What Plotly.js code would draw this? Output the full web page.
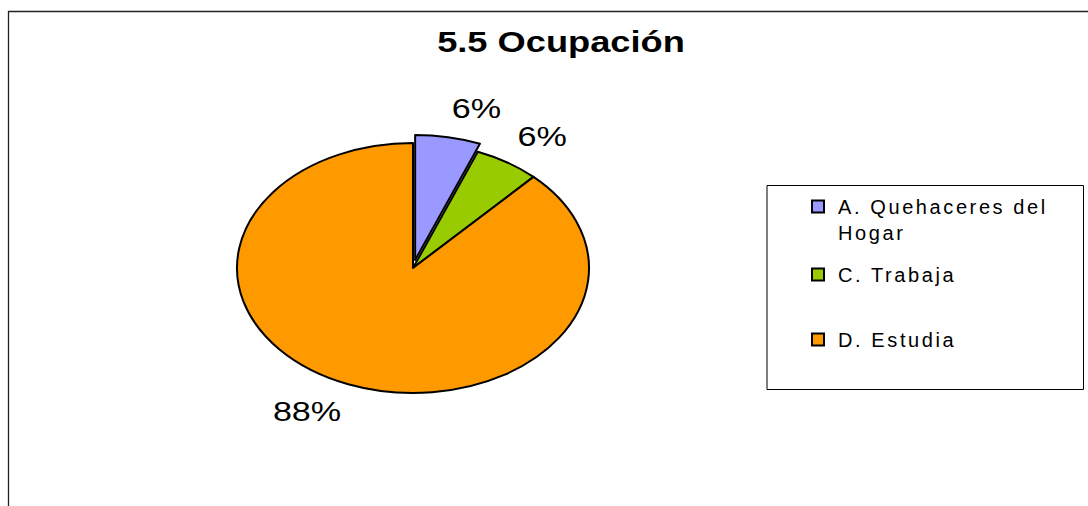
<!DOCTYPE html>
<html>
<head>
<meta charset="utf-8">
<script src="https://cdn.plot.ly/plotly-3.0.1.min.js"></script>
<style>
  html, body { margin: 0; padding: 0; background: #ffffff; }
  #chart { width: 1088px; height: 506px; }
  .legendtext { letter-spacing: 2.6px; }
  .pielayer path.textline { display: none; }
</style>
</head>
<body>
<div id="chart"></div>
<script>
// ---- data ----
const categories = ['A. Quehaceres del<br>Hogar', 'C. Trabaja', 'D. Estudia'];
const shares = [6, 6, 88];
const sliceColors = ['#9999FF', '#99CC00', '#FF9900'];
const pulls = [0.065, 0, 0];
const chartTitle = '5.5 Ocupación';

// ---- layout constants ----
const W = 1088, H = 506;
const CX = 413, CY = 268, R = 125;   // pie centre / vertical radius in px
const SX = 176 / 125;                 // horizontal stretch of the (elliptic) pie
const LABEL_GAP = 19;                 // px between ellipse and label corner
const TITLE_STRETCH = 1.25;           // horizontal stretch of the title
const LABEL_STRETCH = 1.22;           // horizontal stretch of value labels
const LEGEND_ROW_GAPS = [68, 65];     // px between legend rows
const FONT = 'Liberation Sans, Arial, Helvetica, sans-serif';
const LABEL_SIZE = 28;

const half = R * (1 + Math.max(...pulls));
const trace = {
  type: 'pie',
  labels: categories,
  values: shares,
  sort: false,
  direction: 'clockwise',
  rotation: 0,
  pull: pulls,
  marker: { colors: sliceColors, line: { color: '#000000', width: 2 } },
  texttemplate: '%{percent:.0%}',
  textposition: 'outside',
  textfont: { family: FONT, size: LABEL_SIZE, color: '#000000' },
  hoverinfo: 'label+percent',
  domain: {
    x: [(CX - half) / W, (CX + half) / W],
    y: [1 - (CY + half) / H, 1 - (CY - half) / H]
  }
};

const layout = {
  width: W, height: H,
  margin: { l: 0, r: 0, t: 0, b: 0 },
  paper_bgcolor: '#ffffff',
  plot_bgcolor: '#ffffff',
  showlegend: true,
  title: {
    text: chartTitle,
    font: { family: FONT, size: 29, color: '#000000', weight: 'bold' },
    x: 561 / W, xref: 'paper', xanchor: 'center',
    y: 1 - 42 / H, yref: 'container', yanchor: 'middle'
  },
  legend: {
    x: (838 - 40) / W, xanchor: 'left',
    y: 1 - 187 / H, yanchor: 'top',
    valign: 'top',
    bgcolor: 'rgba(0,0,0,0)',
    borderwidth: 0,
    font: { family: FONT, size: 20, color: '#000000' },
    traceorder: 'normal'
  },
  shapes: [
    { type: 'rect', xref: 'paper', yref: 'paper',
      x0: 8.5 / W, x1: 1.05, y0: -0.05, y1: 1 - 11.5 / H,
      line: { color: '#222222', width: 1.3 }, fillcolor: 'rgba(0,0,0,0)', layer: 'below' },
    { type: 'rect', xref: 'paper', yref: 'paper',
      x0: 767 / W, x1: 1083.5 / W, y0: 1 - 389.5 / H, y1: 1 - 185.5 / H,
      line: { color: '#000000', width: 1 }, fillcolor: 'rgba(0,0,0,0)', layer: 'below' }
  ]
};

function stretchText(el, box, s) {
  const rc = el.getBoundingClientRect();
  const c = rc.left + rc.width / 2 - box.left;
  const prev = el.getAttribute('transform') || '';
  el.setAttribute('transform', 'translate(' + c + ',0) scale(' + s + ',1) translate(' + (-c) + ',0) ' + prev);
}

const gd = document.getElementById('chart');
Plotly.newPlot(gd, [trace], layout, { displayModeBar: false, staticPlot: true }).then(function () {
  const box = gd.getBoundingClientRect();
  const cd0 = gd.calcdata[0][0];
  const cx = cd0.cx, cy = cd0.cy, r = cd0.r;

  // stretch pie horizontally into an ellipse
  gd.querySelectorAll('.pielayer path.surface').forEach(function (p) {
    p.setAttribute('transform', 'translate(' + cx + ',0) scale(' + SX + ',1) translate(' + (-cx) + ',0)');
    p.style.vectorEffect = 'non-scaling-stroke';
  });

  // title stretch
  const tt = gd.querySelector('.gtitle');
  if (tt) stretchText(tt, box, TITLE_STRETCH);

  // place percentage labels outside the ellipse
  const total = shares.reduce(function (a, b) { return a + b; }, 0);
  let cum = 0;
  gd.querySelectorAll('.pielayer g.slice').forEach(function (g, i) {
    const th = 2 * Math.PI * (cum + shares[i] / 2) / total;
    cum += shares[i];
    const t = g.querySelector('.slicetext text');
    if (!t) return;
    stretchText(t, box, LABEL_STRETCH);
    const ux = Math.sin(th), uy = -Math.cos(th);
    const ar = r * (1 + pulls[i]);
    const px = cx + SX * ar * ux + LABEL_GAP * ux;
    const py = cy + ar * uy + LABEL_GAP * uy;
    const rc = t.getBoundingClientRect();
    const hw = rc.width / 2, hh = 0.36 * LABEL_SIZE;
    const tx = px + (ux >= 0 ? hw : -hw);
    const ty = py + (uy <= 0 ? -hh : hh);
    const curX = rc.left + hw - box.left;
    const curY = rc.top + rc.height / 2 - box.top;
    const prev = t.getAttribute('transform') || '';
    t.setAttribute('transform', 'translate(' + (tx - curX) + ',' + (ty - curY) + ') ' + prev);
  });

  // legend: no clipping, custom row spacing (aligned on the colour boxes)
  gd.querySelectorAll('.legend [clip-path]').forEach(function (el) { el.removeAttribute('clip-path'); });
  const items = gd.querySelectorAll('.legend g.traces');
  let firstY = null, acc = 0;
  items.forEach(function (it, i) {
    const sym = it.querySelector('.legendpoints') || it;
    const sr = sym.getBoundingClientRect();
    const sy = sr.top + sr.height / 2 - box.top;
    if (i === 0) { firstY = sy; return; }
    acc += LEGEND_ROW_GAPS[i - 1] || 0;
    const dy = firstY + acc - sy;
    const prev = it.getAttribute('transform') || '';
    it.setAttribute('transform', 'translate(0,' + dy + ') ' + prev);
  });
});
</script>
</body>
</html>
